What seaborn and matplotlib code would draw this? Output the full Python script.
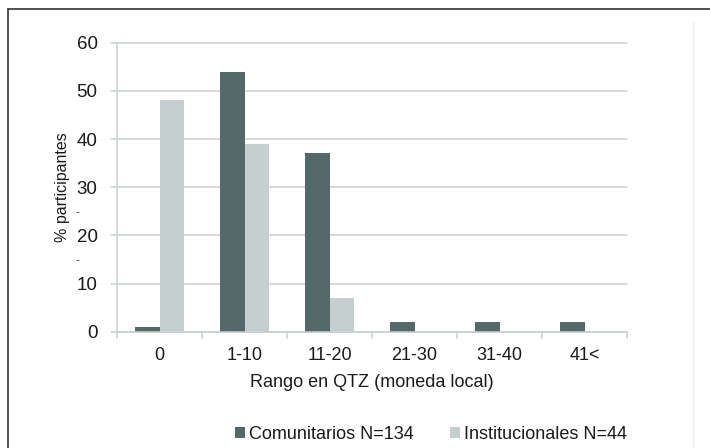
import matplotlib
matplotlib.use("Agg")
import matplotlib.pyplot as plt
from matplotlib.lines import Line2D
from matplotlib.patches import Patch
import pandas as pd
import seaborn as sns

# Survey data: share of participants by amount range
categories = ["0", "1-10", "11-20", "21-30", "31-40", "41<"]
comunitarios = [1, 54, 37, 2, 2, 2]
institucionales = [48, 39, 7, 0, 0, 0]
series_names = ["Comunitarios N=134", "Institucionales N=44"]
y_ticks = [0, 10, 20, 30, 40, 50, 60]

dark = "#536868"
light = "#c6cfcf"
grid_col = "#c9d0d0"
text_col = "#1a1a1a"

sns.set_theme(style="white")
plt.rcParams["font.family"] = ["Liberation Sans", "DejaVu Sans"]

df = pd.DataFrame({
    "rango": categories * 2,
    "pct": comunitarios + institucionales,
    "grupo": [series_names[0]] * len(categories) + [series_names[1]] * len(categories),
})

fig = plt.figure(figsize=(7.10, 4.48), dpi=100)
ax = fig.add_axes([117 / 710, (448 - 331.7) / 448, 510 / 710, 289 / 448])

sns.barplot(data=df, x="rango", y="pct", hue="grupo", order=categories,
            hue_order=series_names, palette=[dark, light], width=0.565,
            gap=0, saturation=1, linewidth=0, legend=False, ax=ax)

ax.set_ylim(0, 60)
ax.set_xlim(-0.5, len(categories) - 0.5)
ax.set_yticks(y_ticks)
ax.set_yticklabels([str(t) for t in y_ticks], fontsize=13.5, color=text_col)
ax.tick_params(axis="y", length=0, pad=14)
ax.tick_params(axis="x", length=0, pad=11, labelsize=13, labelcolor=text_col)

# horizontal gridlines extending slightly left of the axis
for t in y_ticks:
    ax.plot([-0.57, len(categories) - 0.5], [t, t], color=grid_col, lw=1.1,
            clip_on=False, zorder=0.5)

for s in ["top", "right"]:
    ax.spines[s].set_visible(False)
ax.spines["left"].set_color(grid_col)
ax.spines["bottom"].set_color(grid_col)
ax.spines["left"].set_linewidth(1.1)
ax.spines["bottom"].set_linewidth(1.1)

# category boundary ticks under the x axis
for b in range(len(categories) + 1):
    ax.plot([b - 0.5, b - 0.5], [0, -1.25], color=grid_col, lw=1.1,
            clip_on=False)

ax.set_xlabel("Rango en QTZ (moneda local)", fontsize=13, color=text_col,
              labelpad=7)
ax.set_ylabel("% participantes", fontsize=11.5, color=text_col, labelpad=5)

fig.text(78 / 710, 1 - 213 / 448, "-", fontsize=9, color="#444444",
         ha="center", va="center")
fig.text(78 / 710, 1 - 261 / 448, "-", fontsize=9, color="#444444",
         ha="center", va="center")

handles = [Patch(facecolor=dark, edgecolor="none"),
           Patch(facecolor=light, edgecolor="none")]
fig.legend(handles, series_names, loc="center", bbox_to_anchor=(431 / 710, 1 - 434 / 448),
           ncol=2, frameon=False, fontsize=13, handlelength=0.55,
           handleheight=0.55, handletextpad=0.25, columnspacing=2.0,
           labelcolor=text_col)

# figure frame
fig.add_artist(Line2D([8 / 710, 1], [1 - 9 / 448] * 2, color="#333333", lw=1.2))
fig.add_artist(Line2D([8 / 710] * 2, [0, 1 - 9 / 448], color="#333333", lw=1.2))
fig.add_artist(Line2D([693 / 710] * 2, [0, 1 - 22 / 448], color="#eeeeee", lw=1))

fig.savefig("out.png", dpi=100)
